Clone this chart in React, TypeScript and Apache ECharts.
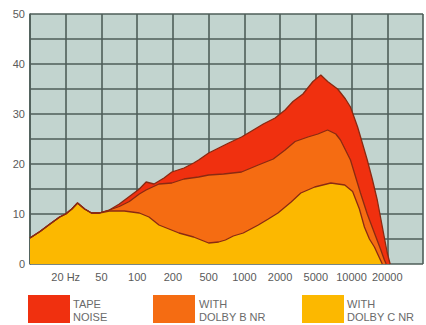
import React, { useEffect, useRef } from "react";
import * as echarts from "echarts";

// x positions are indices along the frequency scale (1 = 20 Hz, 2 = 50, 3 = 100 ... 10 = 20000)
const freqLabels = ["", "20 Hz", "50", "100", "200", "500", "1000", "2000", "5000", "10000", "20000", ""];
const yTicks = [0, 10, 20, 30, 40, 50];

const common: [number, number][] = [
  [0.0, 5.2], [0.28, 6.5], [0.56, 8.0], [0.83, 9.4], [1.0, 10.0], [1.17, 11.0],
  [1.33, 12.2], [1.53, 11.0], [1.72, 10.2], [1.94, 10.2], [2.22, 10.8],
];

const tapeNoise: [number, number][] = [
  ...common,
  [2.5, 12.0], [2.78, 13.5], [3.06, 15.0], [3.25, 16.4], [3.47, 16.0], [3.75, 17.2],
  [3.97, 18.4], [4.31, 19.2], [4.58, 20.2], [4.72, 20.8], [5.0, 22.2], [5.28, 23.2],
  [5.56, 24.2], [5.92, 25.4], [6.25, 26.8], [6.53, 28.0], [6.86, 29.2], [7.14, 30.8],
  [7.36, 32.5], [7.64, 34.0], [7.92, 36.5], [8.14, 37.8], [8.33, 36.5], [8.61, 35.0],
  [8.83, 33.0], [8.97, 31.4], [9.17, 27.4], [9.31, 24.0], [9.44, 20.8], [9.58, 17.0],
  [9.72, 12.8], [9.86, 7.5], [10.0, 2.2], [10.08, 0],
];

const dolbyB: [number, number][] = [
  ...common,
  [2.5, 11.5], [2.78, 12.5], [3.06, 14.0], [3.25, 14.8], [3.61, 16.0], [3.97, 16.2],
  [4.31, 17.0], [4.72, 17.4], [5.0, 17.8], [5.42, 18.0], [5.92, 18.4], [6.39, 19.8],
  [6.81, 21.0], [7.14, 22.8], [7.42, 24.5], [7.78, 25.4], [8.06, 26.0], [8.33, 26.8],
  [8.56, 26.0], [8.69, 24.8], [8.97, 20.8], [9.25, 14.2], [9.44, 10.0], [9.64, 6.2],
  [9.81, 3.0], [9.92, 0.8], [9.97, 0],
];

const dolbyC: [number, number][] = [
  [0.0, 5.2], [0.28, 6.5], [0.56, 8.0], [0.83, 9.4], [1.0, 10.0], [1.17, 11.0],
  [1.33, 12.2], [1.53, 11.0], [1.72, 10.2], [1.94, 10.2], [2.22, 10.6],
  [2.64, 10.6], [3.06, 10.2], [3.33, 9.4], [3.61, 7.8], [3.89, 7.0], [4.17, 6.2],
  [4.58, 5.4], [5.0, 4.2], [5.28, 4.4], [5.47, 4.8], [5.69, 5.6], [5.97, 6.2],
  [6.39, 7.8], [6.67, 9.0], [6.94, 10.2], [7.31, 12.4], [7.58, 14.2], [7.97, 15.4],
  [8.42, 16.2], [8.81, 15.8], [9.03, 14.5], [9.22, 11.0], [9.36, 7.4], [9.5, 5.0],
  [9.64, 3.4], [9.86, 0],
];

const seriesNames = [
  ["TAPE", "NOISE"],
  ["WITH", "DOLBY B NR"],
  ["WITH", "DOLBY C NR"],
];
const colors = ["#f0300f", "#f56c12", "#fcb800"];

export default function App() {
  const ref = useRef<HTMLDivElement>(null);
  useEffect(() => {
    if (!ref.current) return;
    const chart = echarts.init(ref.current, undefined, { renderer: "svg" });
    const font = "'Liberation Sans', Arial, sans-serif";
    const mk = (name: string, data: [number, number][], color: string) => ({
      name,
      type: "line",
      data,
      showSymbol: false,
      smooth: false,
      lineStyle: { color: "#8a2a12", width: 1.3 },
      areaStyle: { color, opacity: 1 },
      z: 2,
    });
    const legendX = [[28, 73], [153, 199], [302, 347]];
    const graphics: any[] = [];
    seriesNames.forEach((lines, i) => {
      graphics.push({
        type: "rect",
        shape: { x: legendX[i][0], y: 295, width: 42, height: 28 },
        style: { fill: colors[i] },
      });
      graphics.push({
        type: "text",
        x: legendX[i][1],
        y: 297,
        style: {
          text: lines.join("\n"),
          fill: "#6a6a6a",
          font: `11px ${font}`,
          lineHeight: 13,
        },
      });
    });
    chart.setOption({
      animation: false,
      grid: { left: 30, right: 0, top: 14, bottom: 61, backgroundColor: "#c2d4cf", show: true, borderWidth: 0 },
      xAxis: {
        type: "value",
        min: 0,
        max: 11,
        interval: 1,
        axisLine: { show: false },
        axisTick: { show: false },
        splitLine: { show: true, lineStyle: { color: "#4e5e59", width: 1.6 } },
        axisLabel: {
          color: "#5a5a5a",
          fontSize: 11,
          fontFamily: font,
          margin: 7,
          formatter: (v: number) => freqLabels[Math.round(v)] ?? "",
        },
      },
      yAxis: {
        type: "value",
        min: 0,
        max: 50,
        interval: 5,
        axisLine: { show: true, lineStyle: { color: "#4e5e59", width: 1.6 } },
        axisTick: { show: false },
        splitLine: { show: true, lineStyle: { color: "#4e5e59", width: 1.6 } },
        axisLabel: {
          color: "#5a5a5a",
          fontSize: 11,
          fontFamily: font,
          margin: 5,
          formatter: (v: number) => (yTicks.includes(v) ? String(v) : ""),
        },
      },
      series: [
        mk("TAPE NOISE", tapeNoise, colors[0]),
        mk("WITH DOLBY B NR", dolbyB, colors[1]),
        mk("WITH DOLBY C NR", dolbyC, colors[2]),
      ],
      graphic: graphics,
    });
    return () => chart.dispose();
  }, []);
  return <div ref={ref} style={{ width: 426, height: 325, position: "absolute", left: 0, top: 0 }} />;
}
